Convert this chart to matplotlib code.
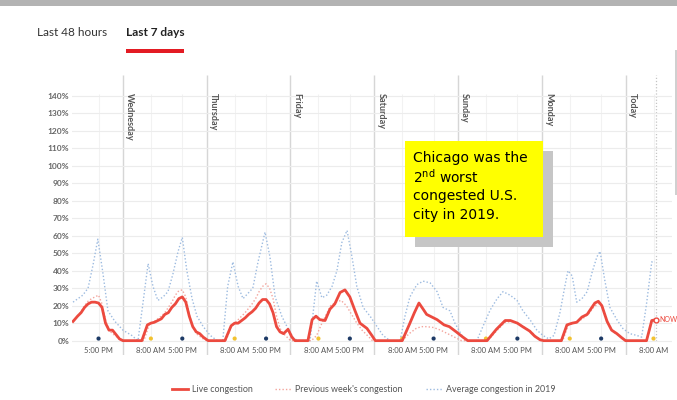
import matplotlib.pyplot as plt
import matplotlib.patches as patches
from matplotlib.lines import Line2D

plt.rcParams['font.family'] = ['Lato', 'DejaVu Sans']

# hours counted from Tuesday 00:00 of last week
live_h = [9.7, 11, 12, 13, 14, 15, 16, 17, 18, 19, 20, 21, 22, 23, 24,
          29.4, 31, 32, 33, 35, 36, 37, 38, 39, 40, 41, 42, 43, 44, 45, 46, 47, 48.4,
          53.2, 55, 56, 57, 58, 59, 60, 61, 62, 63, 64, 65, 66, 67, 68, 69, 70, 71.3, 72.4, 73.3,
          77, 78.2, 79.3, 80.4, 81.9, 83.3, 84.7, 86.2, 87.6, 89, 90.5, 91.9, 93.9, 95.3, 96.3,
          104, 106, 107.5, 108.8, 110, 111, 112.5, 114, 116, 117.5, 119.5, 121.4, 122.8,
          128.3, 131, 133.5, 135, 137, 138.5, 140.5, 142, 143.5, 144.5,
          149.6, 151.2, 152.7, 154, 155.5, 157, 158, 159.2, 160.2, 161.2, 162.7, 164, 165.5, 167, 168,
          174, 175.5, 176.6]
live_v = [11, 14, 16, 19, 21, 22, 22, 21.5, 19, 10, 6, 6, 3.5, 1, 0,
          0, 9, 10, 10.5, 12.5, 15, 16, 19, 21, 24, 25, 22, 14, 8, 5, 4, 2, 0,
          0, 8.5, 10, 10, 11.5, 13, 15, 16.5, 18.5, 21.5, 23.5, 23.5, 21, 16, 8, 5, 4, 6.5, 2, 0,
          0, 12, 14, 12, 11.5, 18, 21, 27.5, 29, 25, 17, 10, 7, 3, 0,
          0, 9, 16, 21.5, 18, 15, 13.5, 12, 9, 8, 5, 2, 0,
          0, 6.5, 11.5, 11.5, 10, 8, 5.5, 2.5, 0.5, 0,
          0, 9, 10, 10.5, 13.5, 15, 18, 21.5, 22.5, 20, 11, 6, 4, 1.5, 0,
          0, 11.5, 12]

prev_h = [9.7, 11, 12, 13, 14, 15, 16, 17, 18, 19, 20, 21, 22, 23, 24,
          30, 31.5, 33, 35, 36, 37, 38, 39, 40, 41, 42, 43, 44, 45, 46, 47, 48,
          53.5, 55, 56, 57, 58, 59, 60, 61, 62, 63, 64, 65, 66, 67, 68, 69, 70, 71, 72,
          78, 79.5, 81, 82.5, 83.5, 85, 86.5, 88, 89.5, 91, 92.5, 94, 95.5,
          104, 106, 108, 109.5, 111, 113, 115, 117, 119, 121,
          128.5, 131, 133.5, 135.5, 137.5, 139.5, 141, 142.5, 144,
          150, 151.5, 153, 154.5, 156, 157.5, 159, 160.5, 161.5, 163, 164.5, 166, 167.5, 168.5,
          174, 175.5, 176.6]
prev_v = [11, 14, 16.5, 20, 22.5, 24, 25, 26, 21, 12, 6, 4, 2.5, 1, 0,
          0, 9, 11, 14, 16, 19, 22, 26, 28.5, 29, 25, 15, 8, 4, 2.5, 1, 0,
          0, 8, 10, 12, 14, 16, 18.5, 21, 24, 28, 31, 32.5, 30, 24, 14, 7, 4, 2, 0,
          0, 3, 10, 16, 20, 22, 23, 20, 15, 10, 6, 3, 0,
          0, 4, 7, 8, 8, 7.5, 6, 4, 2, 0,
          0, 5.5, 10.5, 11, 9.5, 7, 5, 2, 0,
          0, 8.5, 10, 11, 13, 15.5, 19.5, 21.5, 19, 10, 5, 3, 1, 0,
          0, 10.5, 11]

avg_h = [9.7, 12.5, 14, 15.4, 16.8, 18.3, 19.7, 21.7, 24, 26.5, 28.3,
         29.7, 31.2, 32.6, 34, 35.5, 36.9, 38.3, 39.8, 41, 42.3, 43.8, 45.2, 47, 49, 51, 52.6,
         54, 55.5, 57, 58.4, 59.8, 61.2, 62.7, 64.7, 66.1, 67.6, 69.5, 71, 72.7, 74, 77.6,
         79.5, 81, 82.4, 83.9, 85.3, 86.7, 88.2, 89.6, 91, 92.8, 94.8, 96.8, 98.5, 100.5, 103.4,
         104.8, 106.2, 108.2, 110, 112, 114, 115.7, 117.7, 119.1, 121.1, 122.6, 125.4,
         127.1, 129.2, 131.2, 132.9, 134.9, 136.9, 138.6, 140.6, 142.6, 144.3, 146, 147.5,
         149.2, 150.6, 151.5, 152.7, 154, 155.5, 157, 158.4, 159.8, 160.7, 162, 163.5, 165.5,
         167.2, 169.2, 171.2, 172.6, 174, 175.5, 176.4]
avg_v = [22, 26, 30, 43, 58, 38, 17, 11, 6, 3, 0,
         21, 44, 31, 23, 25, 28, 38, 51, 59, 40, 24, 14, 8, 3, 0, 0,
         31, 45, 31, 24, 27, 30, 45, 62, 48, 25, 14, 8, 2, 0, 0,
         34, 24.5, 26, 31, 40, 56, 63, 48, 31, 19, 14, 8, 3, 0, 0,
         14, 25, 32, 34, 33, 28, 19, 17, 10, 3, 0, 0,
         8, 17.5, 24, 28, 26, 23, 17, 12, 6, 3, 1, 3,
         16, 31, 40, 37, 22, 24, 28, 39, 48, 51, 35, 19, 12,
         7, 4, 3, 2, 21, 45, 45]

day_hours = [24, 48, 72, 96, 120, 144, 168]
day_names = ["Wednesday", "Thursday", "Friday", "Saturday", "Sunday", "Monday", "Today"]

tick_hours = [17, 32, 41, 56, 65, 80, 89, 104, 113, 128, 137, 152, 161, 176]
tick_labels = ["5:00 PM", "8:00 AM", "5:00 PM", "8:00 AM", "5:00 PM", "8:00 AM", "5:00 PM",
               "8:00 AM", "5:00 PM", "8:00 AM", "5:00 PM", "8:00 AM", "5:00 PM", "8:00 AM"]
y_ticks = list(range(0, 150, 10))
now_h = 176.6
now_v = 12

W, H = 677, 400
fx = lambda x: x / W
fy = lambda y: 1 - y / H

fig = plt.figure(figsize=(6.77, 4), dpi=100)
ax = fig.add_axes([fx(72), 45 / H, 600 / W, 280 / H])

red = "#ec4a3f"
pink = "#f3a49c"
blue = "#9dbbe0"

# grid
ax.set_xlim(9.4, 181.3)
ax.set_ylim(-8.2, 151.8)
ax.set_yticks(y_ticks)
ax.set_yticklabels([f"{v}%" for v in y_ticks], fontsize=6, color="#666666", fontweight="bold")
ax.set_xticks([])
ax.tick_params(length=0, pad=2)
ax.grid(axis="y", color="#ececec", lw=0.8)
for s in ax.spines.values():
    s.set_visible(False)
ax.vlines(tick_hours, 0, 141, color="#f2f2f2", lw=0.8, zorder=0)
ax.vlines(day_hours, -8.2, 151.8, color="#d6d6d6", lw=1, zorder=1)
ax.vlines([now_h], 0, 151.8, color="#c4c4c4", lw=0.9, linestyles=(0, (1, 1.5)), zorder=1)

for h, name in zip(day_hours, day_names):
    ax.text(h + 0.6, 141.5, name, rotation=270, ha="left", va="top",
            fontsize=6.5, color="#555555", fontweight="bold")

for h, lab in zip(tick_hours, tick_labels):
    ax.text(h, -5.4, lab, ha="center", va="center", fontsize=5.5, color="#555555")

dot_colors = ["#f2c230" if lab.startswith("8") else "#1d3a66" for lab in tick_labels]
ax.scatter(tick_hours, [1.2] * len(tick_hours), c=dot_colors, s=9, zorder=2, linewidths=0)

# series
ax.plot(avg_h, avg_v, color=blue, lw=1, linestyle=(0, (1, 1.5)), zorder=3)
ax.plot(prev_h, prev_v, color=pink, lw=1, linestyle=(0, (1, 1.5)), zorder=4)
ax.plot(live_h, live_v, color=red, lw=2, zorder=5, solid_joinstyle="round")
ax.plot([now_h], [now_v], "o", ms=3.5, mfc="white", mec=red, mew=1, zorder=6)
ax.text(177.6, now_v, "NOW", color=red, fontsize=5, va="center", ha="left")

# legend
handles = [Line2D([], [], color=red, lw=2),
           Line2D([], [], color=pink, lw=1, linestyle=(0, (1, 1.5))),
           Line2D([], [], color=blue, lw=1, linestyle=(0, (1, 1.5)))]
fig.legend(handles, ["Live congestion", "Previous week's congestion", "Average congestion in 2019"],
           loc="center", bbox_to_anchor=(0.537, fy(390)), ncol=3, frameon=False,
           fontsize=6.4, labelcolor="#555555", handlelength=1.8, columnspacing=2.6,
           handletextpad=0.45)

# top strip and tabs
fig.add_artist(patches.Rectangle((0, fy(6)), 1, 6 / H, transform=fig.transFigure,
                                 color="#b3b3b3", lw=0))
fig.add_artist(patches.Rectangle((fx(675), fy(195)), 2 / W, 145 / H, transform=fig.transFigure,
                                 color="#d0d0d0", lw=0))
fig.text(fx(37), fy(32), "Last 48 hours", fontsize=8.5, color="#333333", va="center")
fig.text(fx(126), fy(32), "Last 7 days", fontsize=8.5, color="#222222", va="center",
         fontweight="bold")
fig.add_artist(patches.Rectangle((fx(126), fy(53)), 58 / W, 4 / H, transform=fig.transFigure,
                                 color="#e31b23", lw=0))

# callout box
fig.add_artist(patches.Rectangle((fx(415), fy(247)), 138 / W, 96 / H, transform=fig.transFigure,
                                 color="#c6c6c6", lw=0))
fig.add_artist(patches.Rectangle((fx(405), fy(237)), 138 / W, 96 / H, transform=fig.transFigure,
                                 color="#ffff00", lw=0))
box_lines = ["Chicago was the", r"2$^{\mathrm{nd}}$ worst", "congested U.S.", "city in 2019."]
for i, line in enumerate(box_lines):
    fig.text(fx(413), fy(158 + 19 * i), line, fontsize=10, color="black", va="center",
             family="DejaVu Sans")

fig.savefig("out.png", dpi=100)
